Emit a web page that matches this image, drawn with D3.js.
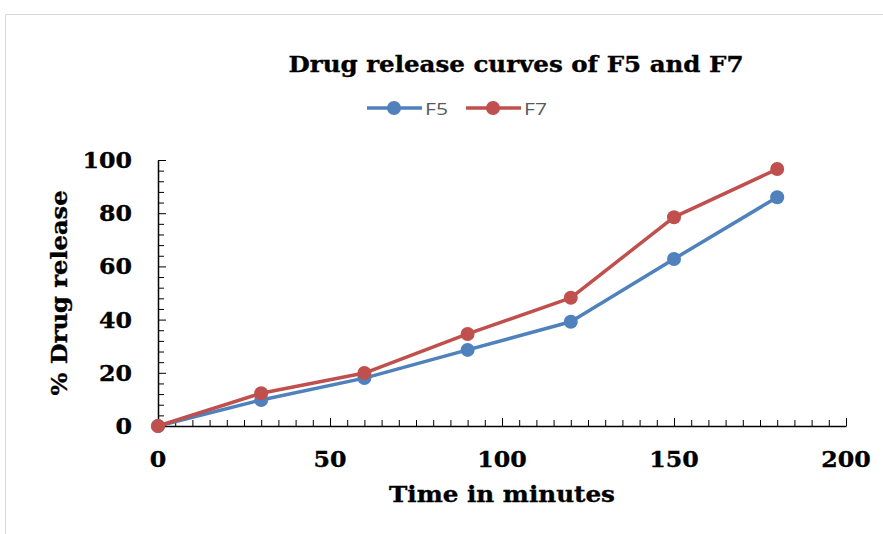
<!DOCTYPE html>
<html>
<head>
<meta charset="utf-8">
<script src="https://cdn.jsdelivr.net/npm/d3@7/dist/d3.min.js"></script>
<style>
  html, body { margin: 0; padding: 0; background: #fff; }
  svg { display: block; }
</style>
</head>
<body>
<svg id="chart" width="883" height="534"></svg>
<script>
const times = [0, 30, 60, 90, 120, 150, 180];
const f5 = [0, 9.8, 18, 28.6, 39.2, 62.8, 86];
const f7 = [0, 12.3, 19.9, 34.6, 48.2, 78.5, 96.6];
const seriesNames = ["F5", "F7"];
const seriesColors = ["#4F81BD", "#C0504D"];
const xTicks = [0, 50, 100, 150, 200];
const yTicks = [0, 20, 40, 60, 80, 100];

const svg = d3.select("#chart");
const serif = "'DejaVu Serif', serif";

function boldText(sel, size) {
  return sel.attr("font-family", serif).attr("font-weight", "bold")
    .attr("font-size", size).attr("fill", "#000")
    .attr("stroke", "#000").attr("stroke-width", 0.35);
}

// outer chart border
svg.append("path")
  .attr("d", "M5.5,534 V14.5 H883")
  .attr("fill", "none").attr("stroke", "#d9d9d9").attr("stroke-width", 1);

const x = d3.scaleLinear().domain([0, 200]).range([158, 846]);
const y = d3.scaleLinear().domain([0, 100]).range([426, 160]);

// x axis
const xAxisG = svg.append("g").attr("transform", `translate(0,${y(0)})`);
xAxisG.call(d3.axisTop(x).tickValues(d3.range(0, 201, 5)).tickSize(6).tickSizeOuter(0).tickFormat(""));
xAxisG.selectAll(".tick line").filter(d => d % 50 === 0).attr("y2", -8);
xAxisG.select(".domain").attr("stroke-width", 1.5);
xAxisG.selectAll("line, path").attr("stroke", "#000");

// y axis
const yAxisG = svg.append("g").attr("transform", `translate(${x(0)},0)`);
yAxisG.call(d3.axisRight(y).tickValues(d3.range(0, 101, 4)).tickSize(6).tickSizeOuter(0).tickFormat(""));
yAxisG.selectAll(".tick line").filter(d => d % 20 === 0).attr("x2", 8);
yAxisG.select(".domain").attr("stroke-width", 1.5);
yAxisG.selectAll("line, path").attr("stroke", "#000");

// tick labels
boldText(svg.append("g").selectAll("text").data(xTicks).join("text")
  .attr("x", d => x(d)).attr("y", 467)
  .attr("text-anchor", "middle")
  .attr("textLength", d => String(d).length * 16.5)
  .attr("lengthAdjust", "spacingAndGlyphs")
  .text(d => d), 22);

boldText(svg.append("g").selectAll("text").data(yTicks).join("text")
  .attr("x", 132).attr("y", d => y(d) + 8)
  .attr("text-anchor", "end")
  .attr("textLength", d => String(d).length * 16.5)
  .attr("lengthAdjust", "spacingAndGlyphs")
  .text(d => d), 22);

// axis titles
boldText(svg.append("text").attr("x", 502).attr("y", 502).attr("text-anchor", "middle")
  .attr("textLength", 226).attr("lengthAdjust", "spacingAndGlyphs")
  .text("Time in minutes"), 22);
boldText(svg.append("text").attr("transform", "translate(67,293) rotate(-90)").attr("text-anchor", "middle")
  .attr("textLength", 205).attr("lengthAdjust", "spacingAndGlyphs")
  .text("% Drug release"), 22);

// title
boldText(svg.append("text").attr("x", 516).attr("y", 72).attr("text-anchor", "middle")
  .attr("textLength", 455).attr("lengthAdjust", "spacingAndGlyphs")
  .text("Drug release curves of F5 and F7"), 22);

// series
const data = [f5, f7];
const line = d3.line().x((d, i) => x(times[i])).y(d => y(d));
data.forEach((vals, k) => {
  svg.append("path").datum(vals)
    .attr("d", line).attr("fill", "none")
    .attr("stroke", seriesColors[k]).attr("stroke-width", 3.5)
    .attr("stroke-linejoin", "round");
  svg.append("g").selectAll("circle").data(vals).join("circle")
    .attr("cx", (d, i) => x(times[i])).attr("cy", d => y(d))
    .attr("r", 7).attr("fill", seriesColors[k]);
});

// legend
const legendX = [367, 466];
seriesNames.forEach((name, k) => {
  const g = svg.append("g").attr("transform", `translate(${legendX[k]},108)`);
  g.append("line").attr("x1", 0).attr("x2", 55).attr("y1", 0).attr("y2", 0)
    .attr("stroke", seriesColors[k]).attr("stroke-width", 3.5);
  g.append("circle").attr("cx", 27).attr("cy", 0).attr("r", 7).attr("fill", seriesColors[k]);
  g.append("text").attr("x", 58).attr("y", 6.5)
    .attr("font-family", "'Open Sans', 'Liberation Sans', sans-serif").attr("font-size", 17)
    .attr("textLength", 23).attr("lengthAdjust", "spacingAndGlyphs")
    .attr("fill", "#595959").text(name);
});
</script>
</body>
</html>
